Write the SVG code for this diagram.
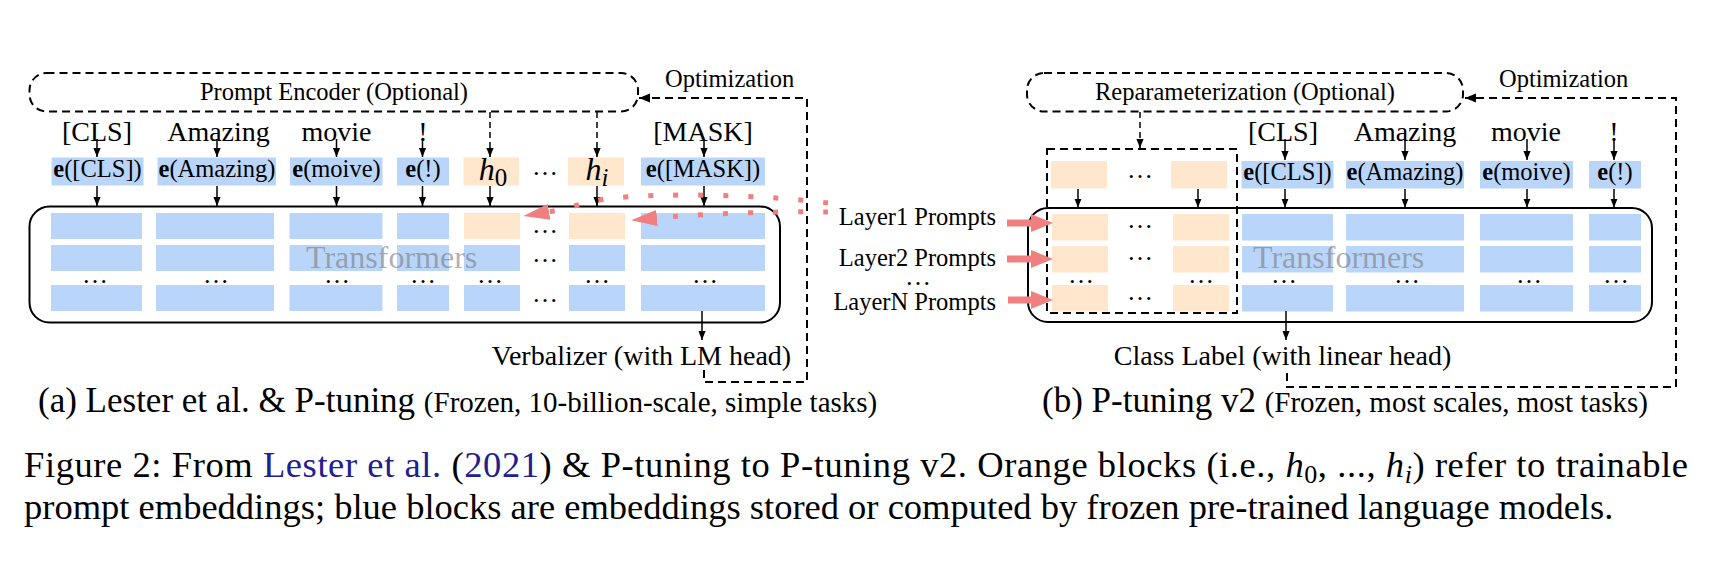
<svg xmlns="http://www.w3.org/2000/svg" width="1721" height="561" viewBox="0 0 1721 561">
<defs>
<style>
text{font-family:"Liberation Serif","Times New Roman",serif;fill:#000}
.w{font-size:28px;text-anchor:middle}
.s{font-size:24.5px}
.m{text-anchor:middle}
.e{font-weight:bold}
.bl{fill:#B9D6FA}
.or{fill:#FEE7CD}
.ar{fill:none;stroke:#000;stroke-width:1.5;marker-end:url(#ah)}
.da{stroke-dasharray:6 4}
.frame{fill:none;stroke:#000;stroke-width:2}
.dframe{fill:none;stroke:#000;stroke-width:2;stroke-dasharray:8 5}
.opt{fill:none;stroke:#000;stroke-width:2;stroke-dasharray:8 5;marker-end:url(#ah2)}
.dots{font-size:26px;text-anchor:middle}
.tf{font-size:32px;fill:#7a7a7a;fill-opacity:.6}
.pk{fill:none;stroke:#F08080;stroke-width:5;stroke-dasharray:5 20;marker-end:url(#pa)}
.pb{fill:none;stroke:#F08080;stroke-width:7;marker-end:url(#pb)}
.cap{font-size:36.5px}
.cite{fill:#20208f}
</style>
<marker id="ah" viewBox="0 0 10 8" refX="10" refY="4" markerWidth="9" markerHeight="8" markerUnits="userSpaceOnUse" orient="auto"><path d="M0,0 L10,4 L0,8 z" fill="#000"/></marker>
<marker id="ah2" viewBox="0 0 10 8" refX="10" refY="4" markerWidth="11" markerHeight="10" markerUnits="userSpaceOnUse" orient="auto"><path d="M0,0 L10,4 L0,8 z" fill="#000"/></marker>
<marker id="pa" viewBox="0 0 26 16" refX="1" refY="8" markerWidth="26" markerHeight="16" markerUnits="userSpaceOnUse" orient="auto"><path d="M0,0 L26,8 L0,16 z" fill="#F08080"/></marker>
<marker id="pb" viewBox="0 0 22 18" refX="1" refY="9" markerWidth="22" markerHeight="18" markerUnits="userSpaceOnUse" orient="auto"><path d="M0,0 L22,9 L0,18 z" fill="#F08080"/></marker>
</defs>
<rect width="1721" height="561" fill="#fff"/>

<!-- ===== Panel (a) ===== -->
<g id="a-prompt-encoder">
<rect class="dframe" x="29.5" y="73" width="608.5" height="38.5" rx="17"/>
<text class="s m" x="334" y="100">Prompt Encoder (Optional)</text>
</g>
<g id="a-optimization-label"><text class="s" x="665" y="87">Optimization</text></g>

<g id="a-words">
<text class="w" x="97" y="140.5">[CLS]</text>
<text class="w" x="218.5" y="140.5">Amazing</text>
<text class="w" x="336.5" y="140.5">movie</text>
<text class="w" x="423" y="140.5">!</text>
<text class="w" x="703" y="140.5">[MASK]</text>
</g>

<g id="a-e-cls"><rect class="bl" x="51.5" y="157.5" width="92" height="28"/><text class="s m" x="97.5" y="177"><tspan class="e">e</tspan>([CLS])</text></g>
<g id="a-e-amazing"><rect class="bl" x="157.5" y="157.5" width="118.5" height="28"/><text class="s m" x="217" y="177"><tspan class="e">e</tspan>(Amazing)</text></g>
<g id="a-e-movie"><rect class="bl" x="290" y="157.5" width="92.5" height="28"/><text class="s m" x="336.5" y="177"><tspan class="e">e</tspan>(moive)</text></g>
<g id="a-e-excl"><rect class="bl" x="397" y="157.5" width="52" height="28"/><text class="s m" x="423" y="177"><tspan class="e">e</tspan>(!)</text></g>
<g id="a-h0"><rect class="or" x="463.5" y="157.5" width="55.5" height="28"/><text class="m" x="493" y="180" font-size="32"><tspan font-style="italic">h</tspan><tspan font-size="25" dy="6">0</tspan></text></g>
<g id="a-hdots"><text class="dots" x="545" y="175">…</text></g>
<g id="a-hi"><rect class="or" x="568" y="157.5" width="56" height="28"/><text class="m" x="597" y="180" font-size="32"><tspan font-style="italic">h</tspan><tspan font-size="25" font-style="italic" dy="6">i</tspan></text></g>
<g id="a-e-mask"><rect class="bl" x="641" y="157.5" width="124" height="28"/><text class="s m" x="703" y="177"><tspan class="e">e</tspan>([MASK])</text></g>

<g id="a-transformers">
<rect class="frame" x="29.5" y="206.5" width="750.5" height="116" rx="20"/>
<g class="bl">
<rect x="51" y="213" width="91" height="26"/><rect x="51" y="245" width="91" height="26"/><rect x="51" y="285" width="91" height="26"/>
<rect x="156" y="213" width="118" height="26"/><rect x="156" y="245" width="118" height="26"/><rect x="156" y="285" width="118" height="26"/>
<rect x="289.5" y="213" width="93" height="26"/><rect x="289.5" y="245" width="93" height="26"/><rect x="289.5" y="285" width="93" height="26"/>
<rect x="397" y="213" width="52" height="26"/><rect x="397" y="245" width="52" height="26"/><rect x="397" y="285" width="52" height="26"/>
<rect x="464" y="245" width="56" height="26"/><rect x="464" y="285" width="56" height="26"/>
<rect x="569" y="245" width="56" height="26"/><rect x="569" y="285" width="56" height="26"/>
<rect x="641" y="213" width="124" height="26"/><rect x="641" y="245" width="124" height="26"/><rect x="641" y="285" width="124" height="26"/>
</g>
<g class="or">
<rect x="464" y="213" width="56" height="26"/><rect x="569" y="213" width="56" height="26"/>
</g>
<g>
<text class="dots" x="95" y="283">…</text><text class="dots" x="216" y="283">…</text><text class="dots" x="337" y="283">…</text><text class="dots" x="423" y="283">…</text>
<text class="dots" x="490" y="283">…</text><text class="dots" x="597" y="283">…</text><text class="dots" x="705" y="283">…</text>
<text class="dots" x="545" y="233">…</text><text class="dots" x="545" y="262">…</text><text class="dots" x="545" y="302">…</text>
</g>
<text class="tf" x="306" y="268">Transformers</text>
</g>

<g id="a-verbalizer"><text class="w" x="641.5" y="365">Verbalizer (with LM head)</text></g>

<g id="a-caption">
<text x="38" y="412" font-size="35">(a) Lester et al. &amp; P-tuning <tspan font-size="29">(Frozen, 10-billion-scale, simple tasks)</tspan></text>
</g>

<!-- ===== Panel (b) ===== -->
<g id="b-reparam">
<rect class="dframe" x="1027" y="73" width="436" height="38.5" rx="17"/>
<text class="s m" x="1245" y="100">Reparameterization (Optional)</text>
</g>
<g id="b-optimization-label"><text class="s" x="1499" y="87">Optimization</text></g>

<g id="b-words">
<text class="w" x="1283" y="140.5">[CLS]</text>
<text class="w" x="1405" y="140.5">Amazing</text>
<text class="w" x="1526" y="140.5">movie</text>
<text class="w" x="1614" y="140.5">!</text>
</g>

<g id="b-prompts-input">
<rect class="or" x="1051" y="161" width="56" height="27.5"/>
<text class="dots" x="1140" y="178">…</text>
<rect class="or" x="1171" y="161" width="56" height="27.5"/>
</g>
<g id="b-e-cls"><rect class="bl" x="1241.5" y="161" width="92" height="27.5"/><text class="s m" x="1287.5" y="180"><tspan class="e">e</tspan>([CLS])</text></g>
<g id="b-e-amazing"><rect class="bl" x="1346" y="161" width="118" height="27.5"/><text class="s m" x="1405" y="180"><tspan class="e">e</tspan>(Amazing)</text></g>
<g id="b-e-movie"><rect class="bl" x="1480" y="161" width="93" height="27.5"/><text class="s m" x="1526.5" y="180"><tspan class="e">e</tspan>(moive)</text></g>
<g id="b-e-excl"><rect class="bl" x="1589" y="161" width="52" height="27.5"/><text class="s m" x="1615" y="180"><tspan class="e">e</tspan>(!)</text></g>

<g id="b-layer-labels">
<text class="s" x="996" y="225" text-anchor="end">Layer1 Prompts</text>
<text class="s" x="996" y="266" text-anchor="end">Layer2 Prompts</text>
<text class="dots" x="918" y="285">…</text>
<text class="s" x="996" y="310" text-anchor="end">LayerN Prompts</text>
</g>

<g id="b-transformers">
<rect class="frame" x="1028" y="208" width="624" height="114" rx="20"/>
<g class="or">
<rect x="1052" y="214" width="56" height="26.5"/><rect x="1052" y="246" width="56" height="26.5"/><rect x="1052" y="285" width="56" height="26.5"/>
<rect x="1173" y="214" width="56" height="26.5"/><rect x="1173" y="246" width="56" height="26.5"/><rect x="1173" y="285" width="56" height="26.5"/>
</g>
<g class="bl">
<rect x="1242" y="214" width="91" height="26.5"/><rect x="1242" y="246" width="91" height="26.5"/><rect x="1242" y="285" width="91" height="26.5"/>
<rect x="1346" y="214" width="118" height="26.5"/><rect x="1346" y="246" width="118" height="26.5"/><rect x="1346" y="285" width="118" height="26.5"/>
<rect x="1480" y="214" width="93" height="26.5"/><rect x="1480" y="246" width="93" height="26.5"/><rect x="1480" y="285" width="93" height="26.5"/>
<rect x="1589" y="214" width="52" height="26.5"/><rect x="1589" y="246" width="52" height="26.5"/><rect x="1589" y="285" width="52" height="26.5"/>
</g>
<g>
<text class="dots" x="1081" y="283">…</text><text class="dots" x="1201" y="283">…</text><text class="dots" x="1284" y="283">…</text>
<text class="dots" x="1407" y="283">…</text><text class="dots" x="1529" y="283">…</text><text class="dots" x="1616" y="283">…</text>
<text class="dots" x="1140" y="228">…</text><text class="dots" x="1140" y="260">…</text><text class="dots" x="1140" y="300">…</text>
</g>
<text class="tf" x="1253" y="268">Transformers</text>
</g>
<g id="b-prompt-box"><rect class="dframe" x="1047" y="149" width="190" height="164"/></g>

<g id="b-class-label"><text class="w" x="1282.5" y="365">Class Label (with linear head)</text></g>

<g id="b-caption">
<text x="1042" y="412" font-size="35">(b) P-tuning v2 <tspan font-size="29">(Frozen, most scales, most tasks)</tspan></text>
</g>

<!-- ===== Connectors ===== -->
<g id="connectors">
<path class="ar" d="M97,139 V157"/><path class="ar" d="M217,139 V157"/><path class="ar" d="M336.5,139 V157"/><path class="ar" d="M422.5,139 V157"/><path class="ar" d="M704,139 V157"/>
<path class="ar" d="M97,186 V206"/><path class="ar" d="M217,186 V206"/><path class="ar" d="M336.5,186 V206"/><path class="ar" d="M422.5,186 V206"/><path class="ar" d="M490,186 V206"/><path class="ar" d="M597,186 V206"/><path class="ar" d="M704,186 V206"/>
<path class="ar da" d="M490,112 V157"/><path class="ar da" d="M597,112 V157"/>
<path class="ar" d="M702,311 V340"/>
<path class="opt" d="M704,370 V382 H807 V98 H639"/>
<path class="pk" d="M828,203 C770,195 660,192 605,199 C582,203 566,209 548,212"/>
<path class="pk" d="M828,212 C780,211 700,214 656,218"/>

<path class="ar" d="M1285,139 V160"/><path class="ar" d="M1405,139 V160"/><path class="ar" d="M1527,139 V160"/><path class="ar" d="M1614,139 V160"/>
<path class="ar" d="M1078,189 V207.5"/><path class="ar" d="M1198,189 V207.5"/><path class="ar" d="M1285,189 V207.5"/><path class="ar" d="M1405,189 V207.5"/><path class="ar" d="M1527,189 V207.5"/><path class="ar" d="M1614,189 V207.5"/>
<path class="ar da" d="M1140,112 V148"/>
<path class="ar" d="M1286,311 V340"/>
<path class="opt" d="M1287,373 V387 H1676 V98 H1465"/>
<path class="pb" d="M1007,223 H1032"/><path class="pb" d="M1007,259 H1032"/><path class="pb" d="M1008,300 H1032"/>
</g>

<!-- ===== Figure caption ===== -->
<g id="figure-caption">
<text class="cap" x="24" y="477" textLength="1664" lengthAdjust="spacing">Figure 2:  From <tspan class="cite">Lester et al.</tspan> (<tspan class="cite">2021</tspan>) &amp; P-tuning to P-tuning v2.  Orange blocks (i.e., <tspan font-style="italic">h</tspan><tspan font-size="26" dy="6">0</tspan><tspan dy="-6">, ..., </tspan><tspan font-style="italic">h</tspan><tspan font-style="italic" font-size="26" dy="6">i</tspan><tspan dy="-6">) refer to trainable</tspan></text>
<text class="cap" x="24" y="519">prompt embeddings; blue blocks are embeddings stored or computed by frozen pre-trained language models.</text>
</g>
</svg>
